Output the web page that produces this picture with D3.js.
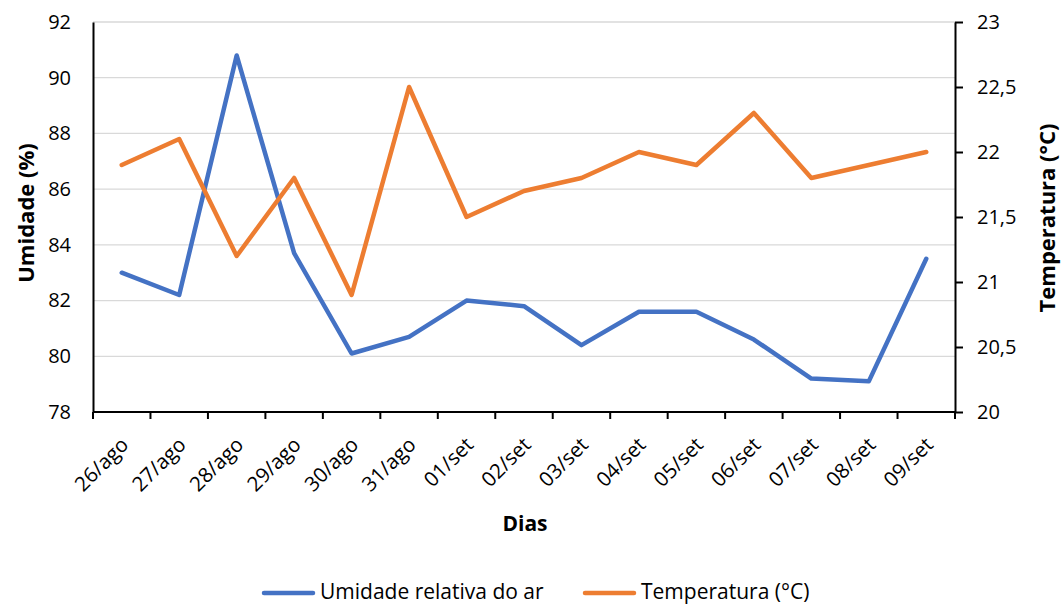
<!DOCTYPE html>
<html>
<head>
<meta charset="utf-8">
<script src="https://cdn.jsdelivr.net/npm/d3@7"></script>
<style>
  html, body { margin: 0; padding: 0; background: #fff; }
  svg { display: block; font-family: "Open Sans", sans-serif; }
</style>
</head>
<body>
<svg id="chart" width="1064" height="605"></svg>
<script>
// Daily readings
const days = ["26/ago","27/ago","28/ago","29/ago","30/ago","31/ago","01/set","02/set","03/set","04/set","05/set","06/set","07/set","08/set","09/set"];
const humidity = [83.0, 82.2, 90.8, 83.7, 80.1, 80.7, 82.0, 81.8, 80.4, 81.6, 81.6, 80.6, 79.2, 79.1, 83.5];
const temperature = [21.9, 22.1, 21.2, 21.8, 20.9, 22.5, 21.5, 21.7, 21.8, 22.0, 21.9, 22.3, 21.8, 21.9, 22.0];
const humTicks = [78, 80, 82, 84, 86, 88, 90, 92];
const tempTicks = [20, 20.5, 21, 21.5, 22, 22.5, 23];

const svg = d3.select("#chart");
const plotLeft = 93, plotRight = 955, plotTop = 22, plotBottom = 412;
const blue = "#4472C4", orange = "#ED7D31";
const fs = 20;

const x = d3.scaleBand().domain(days).range([plotLeft, plotRight]);
const yL = d3.scaleLinear().domain([78, 92]).range([plotBottom, plotTop]);
const yR = d3.scaleLinear().domain([20, 23]).range([plotBottom, plotTop]);
const fmt = d => String(d).replace(".", ",");

// Horizontal gridlines
svg.append("g").selectAll("line").data(humTicks.slice(1)).join("line")
  .attr("x1", plotLeft).attr("x2", plotRight)
  .attr("y1", d => yL(d)).attr("y2", d => yL(d))
  .attr("stroke", "#d9d9d9").attr("stroke-width", 1.3);

// Left axis
const gL = svg.append("g").attr("transform", `translate(${plotLeft},0)`)
  .call(d3.axisLeft(yL).tickValues(humTicks).tickSize(0).tickPadding(22));
gL.select(".domain").attr("stroke", "#000").attr("stroke-width", 2);
gL.selectAll("text").attr("font-size", fs).attr("fill", "#000").attr("font-family", "Open Sans");

// Right axis
const gR = svg.append("g").attr("transform", `translate(${plotRight},0)`)
  .call(d3.axisRight(yR).tickValues(tempTicks).tickSize(8).tickPadding(14).tickFormat(fmt).tickSizeOuter(0));
gR.select(".domain").attr("stroke", "#000").attr("stroke-width", 2);
gR.selectAll(".tick line").attr("stroke", "#000").attr("stroke-width", 2);
gR.selectAll("text").attr("font-size", fs).attr("fill", "#000").attr("font-family", "Open Sans");

// Bottom axis: ticks sit on band boundaries
const gB = svg.append("g").attr("transform", `translate(0,${plotBottom})`);
gB.append("line").attr("x1", plotLeft).attr("x2", plotRight).attr("stroke", "#000").attr("stroke-width", 2);
const bounds = days.map(d => x(d)).concat([plotRight]);
gB.selectAll("line.tk").data(bounds).join("line").attr("class", "tk")
  .attr("x1", d => d).attr("x2", d => d).attr("y1", 0).attr("y2", 7)
  .attr("stroke", "#000").attr("stroke-width", 2);
gB.selectAll("text").data(days).join("text")
  .attr("transform", d => `translate(${x(d) + x.bandwidth() / 2 + 3},${29}) rotate(-45)`)
  .attr("text-anchor", "end").attr("dy", "0.35em")
  .attr("font-size", 20.5).attr("fill", "#000").text(d => d);

// Axis titles
svg.append("text").attr("transform", `translate(34,${(plotTop + plotBottom) / 2 - 4}) rotate(-90)`)
  .attr("text-anchor", "middle").attr("font-size", 22).attr("font-weight", "bold").text("Umidade (%)");
svg.append("text").attr("transform", `translate(1055,${(plotTop + plotBottom) / 2 + 1}) rotate(-90)`)
  .attr("text-anchor", "middle").attr("font-size", 22).attr("font-weight", "bold").text("Temperatura (°C)");
svg.append("text").attr("x", 525).attr("y", 531)
  .attr("text-anchor", "middle").attr("font-size", 21).attr("font-weight", "bold").text("Dias");

// Series lines
const cx = d => x(d) + x.bandwidth() / 2;
svg.append("path").datum(days.map((d, i) => [cx(d), yL(humidity[i])]))
  .attr("d", d3.line()).attr("fill", "none").attr("stroke", blue)
  .attr("stroke-width", 4.5).attr("stroke-linecap", "round").attr("stroke-linejoin", "round");
svg.append("path").datum(days.map((d, i) => [cx(d), yR(temperature[i])]))
  .attr("d", d3.line()).attr("fill", "none").attr("stroke", orange)
  .attr("stroke-width", 4.5).attr("stroke-linecap", "round").attr("stroke-linejoin", "round");

// Legend
const legend = [
  { label: "Umidade relativa do ar", color: blue, x: 264 },
  { label: "Temperatura (°C)", color: orange, x: 585 }
];
const lg = svg.append("g").selectAll("g").data(legend).join("g")
  .attr("transform", d => `translate(${d.x},593)`);
lg.append("line").attr("x1", 0).attr("x2", 49).attr("stroke", d => d.color)
  .attr("stroke-width", 4.5).attr("stroke-linecap", "round");
lg.append("text").attr("x", 56).attr("y", 6).attr("font-size", 21).text(d => d.label);
</script>
</body>
</html>
